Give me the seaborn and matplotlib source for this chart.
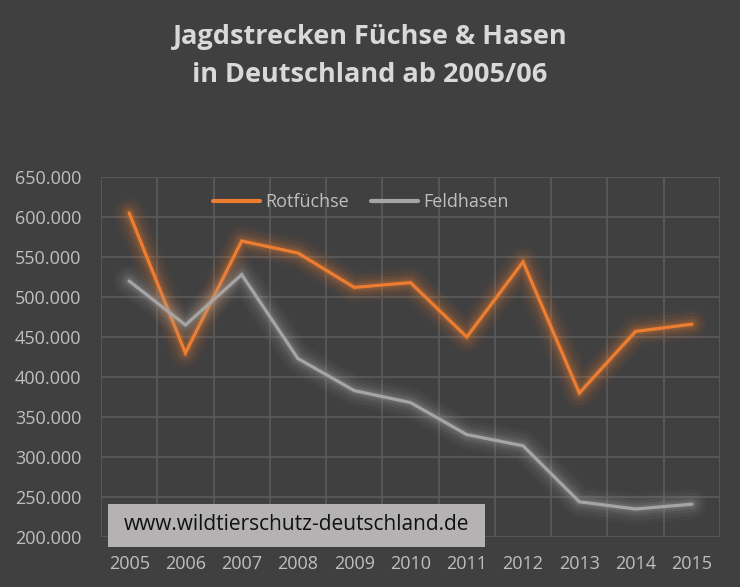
import matplotlib
matplotlib.use("Agg")
import matplotlib.pyplot as plt
import matplotlib.patheffects as pe
from matplotlib.patches import Rectangle
from matplotlib.ticker import FixedLocator, FuncFormatter
import seaborn as sns
import pandas as pd

years = ["2005", "2006", "2007", "2008", "2009", "2010", "2011", "2012", "2013", "2014", "2015"]
rotfuechse = [605000, 430000, 570000, 555000, 512000, 518000, 450000, 544000, 380000, 457000, 466000]
feldhasen = [520000, 465000, 528000, 423000, 383000, 368000, 328000, 314000, 244000, 235000, 241000]
series_names = ["Rotfüchse", "Feldhasen"]
title_lines = ["Jagdstrecken Füchse & Hasen", "in Deutschland ab 2005/06"]
watermark = "www.wildtierschutz-deutschland.de"

df = pd.DataFrame({
    "Jahr": years * 2,
    "Wert": rotfuechse + feldhasen,
    "Art": [series_names[0]] * len(years) + [series_names[1]] * len(years),
})

BG = "#404040"
GRID = "#595959"
TXT = "#bfbfbf"
colors = {"Rotfüchse": "#ed7d31", "Feldhasen": "#a5a5a5"}

sns.set_theme(style="dark")
plt.rcParams["font.family"] = ["Open Sans", "DejaVu Sans"]

fig = plt.figure(figsize=(7.4, 5.87), dpi=100, facecolor=BG)
ax = fig.add_axes([101 / 740, 1 - 537 / 587, (720 - 101) / 740, (537 - 177) / 587])
ax.set_facecolor(BG)

sns.lineplot(data=df, x="Jahr", y="Wert", hue="Art", palette=colors, ax=ax,
             linewidth=2.3, sort=False, legend=True)

for line, name in zip(ax.lines, series_names):
    c = colors[name]
    line.set_path_effects([
        pe.Stroke(linewidth=22, foreground=c, alpha=0.045, joinstyle="round", capstyle="round"),
        pe.Stroke(linewidth=17, foreground=c, alpha=0.065, joinstyle="round", capstyle="round"),
        pe.Stroke(linewidth=12, foreground=c, alpha=0.09, joinstyle="round", capstyle="round"),
        pe.Stroke(linewidth=8, foreground=c, alpha=0.12, joinstyle="round", capstyle="round"),
        pe.Stroke(linewidth=5, foreground=c, alpha=0.16, joinstyle="round", capstyle="round"),
        pe.Normal(),
    ])
    line.set_solid_capstyle("round")
    line.set_solid_joinstyle("miter")

ax.set_xlim(-0.5, len(years) - 0.5)
ax.set_ylim(200000, 650000)
ax.set_yticks(range(200000, 650001, 50000))
ax.yaxis.set_major_formatter(FuncFormatter(lambda v, p: f"{int(v):,}".replace(",", ".")))
ax.set_xticks(range(len(years)))
ax.set_xticklabels(years)
ax.xaxis.set_minor_locator(FixedLocator([i - 0.5 for i in range(len(years) + 1)]))

ax.grid(False)
ax.grid(True, axis="y", which="major", color=GRID, linewidth=1.3)
ax.grid(True, axis="x", which="minor", color=GRID, linewidth=1.3)
ax.set_axisbelow(True)
for s in ax.spines.values():
    s.set_visible(False)

ax.tick_params(axis="both", which="both", length=0, colors=TXT, labelsize=13)
ax.tick_params(axis="y", pad=14)
ax.tick_params(axis="x", pad=13)
ax.set_xlabel("")
ax.set_ylabel("")

leg = ax.legend(loc="upper center", bbox_to_anchor=(0.42, 1.0), ncol=2, frameon=False,
                fontsize=13, labelcolor=TXT, handlelength=2.6, columnspacing=1.2,
                handletextpad=0.3)
for h in leg.legend_handles:
    h.set_linewidth(3)
    h.set_path_effects([])

fig.text(0.5, 1 - 37 / 587, title_lines[0], ha="center", va="center",
         fontsize=19.5, fontweight="bold", color="#d9d9d9")
fig.text(0.5, 1 - 75 / 587, title_lines[1], ha="center", va="center",
         fontsize=19.5, fontweight="bold", color="#d9d9d9")

fig.patches.append(Rectangle((108 / 740, 1 - 547 / 587), (485 - 108) / 740, 43 / 587,
                             transform=fig.transFigure, facecolor="#b4b2b2",
                             edgecolor="none", zorder=5))
fig.text(297 / 740, 1 - 525 / 587, watermark, ha="center", va="center",
         fontsize=15, color="#111111", zorder=6)

fig.savefig("out.png", dpi=100, facecolor=BG)
